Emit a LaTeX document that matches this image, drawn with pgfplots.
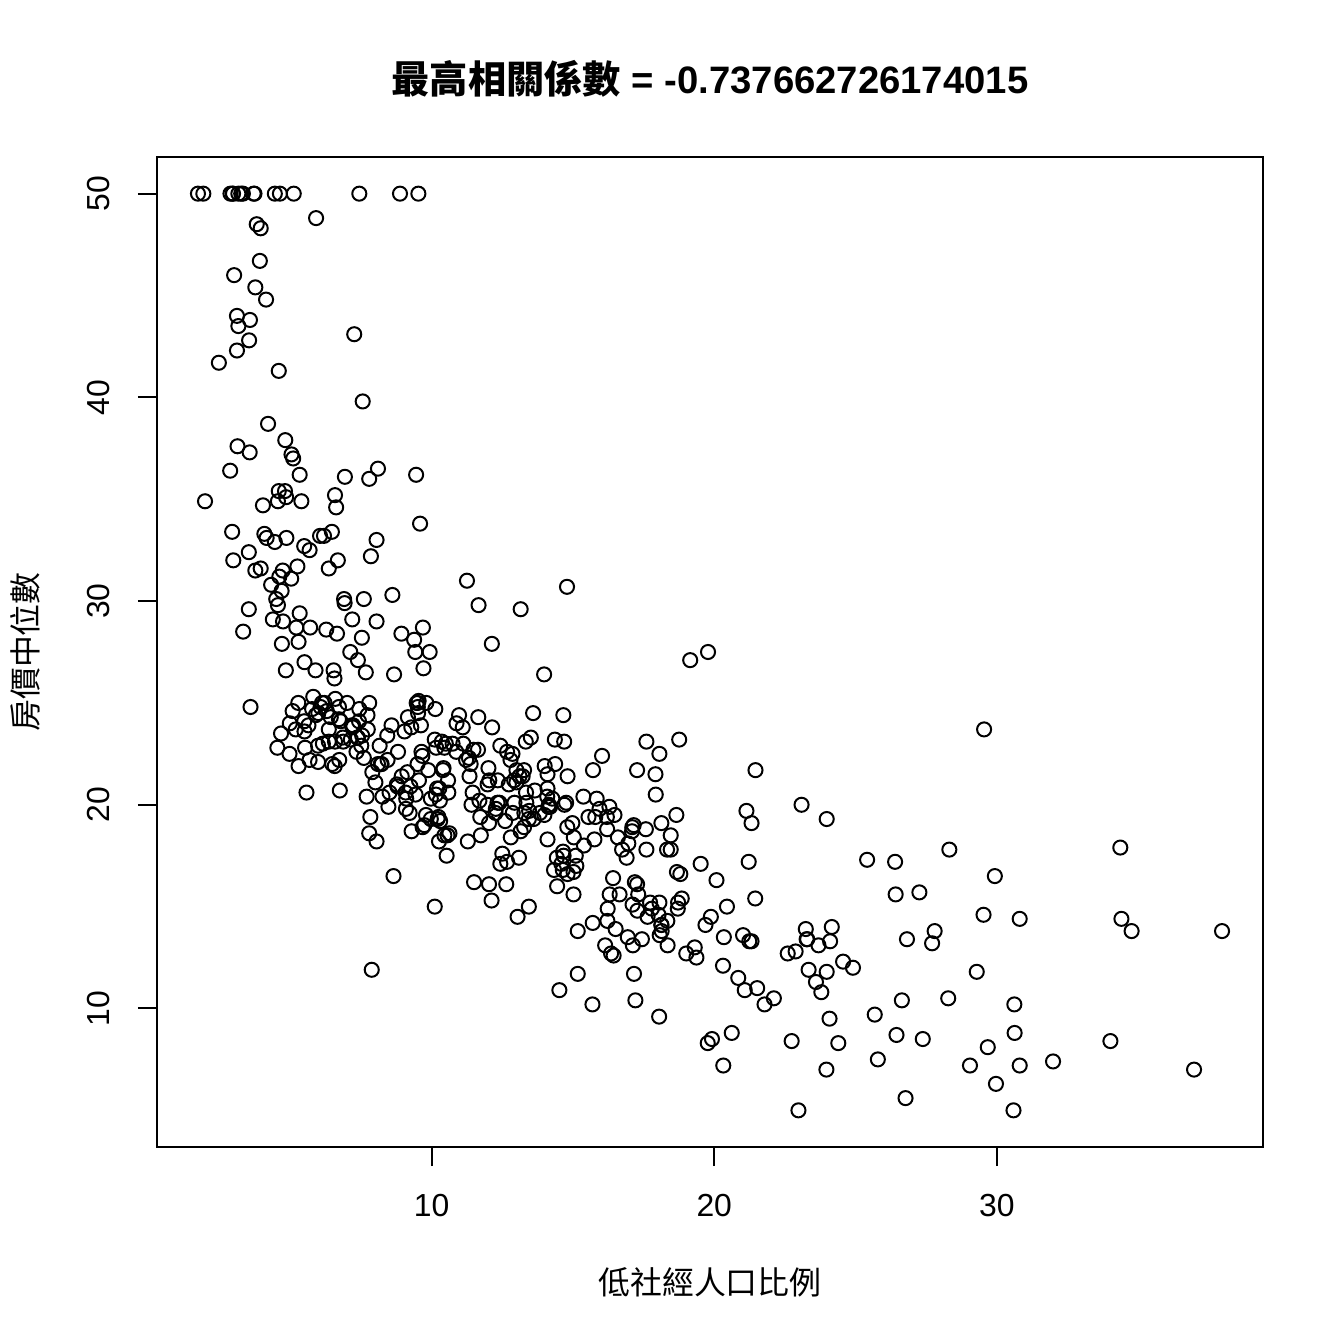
\documentclass[border=0pt]{standalone}
\usepackage{fontspec}
\setmainfont{Liberation Sans}
\newfontfamily\cjk{Noto Sans CJK TC}
\usepackage{pgfplots}
\pgfplotsset{compat=1.18}
\usepackage{pgfplotstable}

% Boston: lstat (x), medv (y)
\pgfplotstableread{
x y
4.98 24.0
9.14 21.6
4.03 34.7
2.94 33.4
5.33 36.2
5.21 28.7
12.43 22.9
19.15 27.1
29.93 16.5
17.10 18.9
20.45 15.0
13.27 18.9
15.71 21.7
8.26 20.4
10.26 18.2
8.47 19.9
6.58 23.1
14.67 17.5
11.69 20.2
11.28 18.2
21.02 13.6
13.83 19.6
18.72 15.2
19.88 14.5
16.30 15.6
16.51 13.9
14.81 16.6
17.28 14.8
12.80 18.4
11.98 21.0
22.60 12.7
13.04 14.5
27.71 13.2
18.35 13.1
20.34 13.5
9.68 18.9
11.41 20.0
8.77 21.0
10.13 24.7
4.32 30.8
1.98 34.9
4.84 26.6
5.81 25.3
7.44 24.7
9.55 21.2
10.21 19.3
14.15 20.0
18.80 16.6
30.81 14.4
16.20 19.4
13.45 19.7
9.43 20.5
5.28 25.0
8.43 23.4
14.80 18.9
4.81 35.4
5.77 24.7
3.95 31.6
6.86 23.3
9.22 19.6
13.15 18.7
14.44 16.0
6.73 22.2
9.50 25.0
8.05 33.0
4.67 23.5
10.24 19.4
8.10 22.0
13.09 17.4
8.79 20.9
6.72 24.2
9.88 21.7
5.52 22.8
7.54 23.4
6.78 24.1
8.94 21.4
11.97 20.0
10.27 20.8
12.34 21.2
9.10 20.3
5.29 28.0
7.22 23.9
6.72 24.8
7.51 22.9
9.62 23.9
6.53 26.6
12.86 22.5
8.44 22.2
5.50 23.6
5.70 28.7
8.81 22.6
8.20 22.0
8.16 22.9
6.21 25.0
10.59 20.6
6.65 28.4
11.34 21.4
4.21 38.7
3.57 43.8
6.19 33.2
9.42 27.5
7.67 26.5
10.63 18.6
13.44 19.3
12.33 20.1
16.47 19.5
18.66 19.5
14.09 20.4
12.27 19.8
15.55 19.4
13.00 21.7
10.16 22.8
16.21 18.8
17.09 18.7
10.45 18.5
15.76 18.3
12.04 21.2
10.30 19.2
15.37 20.4
13.61 19.3
14.37 22.0
14.27 20.3
17.93 20.5
25.41 17.3
17.58 18.8
14.81 21.4
27.26 15.7
17.19 16.2
15.39 18.0
18.34 14.3
12.60 19.2
12.26 19.6
11.12 23.0
15.03 18.4
17.31 15.6
16.96 18.1
16.90 17.4
14.59 17.1
21.32 13.3
18.46 17.8
24.16 14.0
34.41 14.4
26.82 13.4
26.42 15.6
29.29 11.8
27.80 13.8
16.65 15.6
29.53 14.6
28.32 17.8
21.45 15.4
14.10 21.5
13.28 19.6
12.12 15.3
15.79 19.4
15.12 17.0
15.02 15.6
16.14 13.1
4.59 41.3
6.43 24.3
7.39 23.3
5.50 27.0
1.73 50.0
1.92 50.0
3.32 50.0
11.64 22.7
9.81 25.0
3.70 50.0
12.14 23.8
11.10 23.8
11.32 22.3
14.43 17.4
12.03 19.1
14.69 23.1
9.04 23.6
9.64 22.6
5.33 29.4
10.11 23.2
6.29 24.6
6.92 29.9
5.04 37.2
7.56 39.8
9.45 36.2
4.82 37.9
5.68 32.5
13.98 26.4
13.15 29.6
4.45 50.0
6.68 32.0
4.56 29.8
5.39 34.9
5.10 37.0
4.69 30.5
2.87 36.4
5.03 31.1
4.38 29.1
2.97 50.0
4.08 33.3
8.61 30.3
6.62 34.6
4.56 34.9
4.45 32.9
7.43 24.1
3.11 42.3
3.81 48.5
2.88 50.0
10.87 22.6
10.97 24.4
18.06 22.5
14.66 24.4
23.09 20.0
17.27 21.7
23.98 19.3
16.03 22.4
9.38 28.1
29.55 23.7
9.47 25.0
13.51 23.3
9.69 28.7
17.92 21.5
10.50 23.0
9.71 26.7
21.46 21.7
9.93 27.5
7.60 30.1
4.14 44.8
4.63 50.0
3.13 37.6
6.36 31.6
3.92 46.7
3.76 31.5
11.65 24.3
5.25 31.7
2.47 41.7
3.95 48.3
8.05 29.0
10.88 24.0
9.54 25.1
4.73 31.5
6.36 23.7
7.37 23.3
11.38 22.0
12.40 20.1
11.22 22.2
5.19 23.7
12.50 17.6
18.46 18.5
9.16 24.3
10.15 20.5
9.52 24.5
6.56 26.2
5.90 24.4
3.59 24.8
3.53 29.6
3.54 42.8
6.57 21.9
9.25 20.9
3.11 44.0
5.12 50.0
7.79 36.0
6.90 30.1
9.59 33.8
7.26 43.1
5.91 48.8
11.25 31.0
8.10 36.5
10.45 22.8
14.79 30.7
7.44 50.0
3.16 43.5
13.65 20.7
13.00 21.1
6.59 25.2
7.73 24.4
6.58 35.2
3.53 32.4
2.98 32.0
6.05 33.2
4.16 33.1
7.19 29.1
4.85 35.1
3.76 45.4
4.59 35.4
3.01 46.0
3.16 50.0
7.85 32.2
8.23 22.0
12.93 20.1
7.14 23.2
7.60 22.3
9.51 24.8
3.33 28.5
3.56 37.3
4.70 27.9
8.58 23.9
10.40 21.7
6.27 28.6
7.39 27.1
15.84 20.3
4.97 22.5
4.74 29.0
6.07 24.8
9.50 22.0
8.67 26.4
4.86 33.1
6.93 36.1
8.93 28.4
6.47 33.4
7.53 28.2
4.54 22.8
9.97 20.3
12.64 16.1
5.98 22.1
11.72 19.4
7.90 21.6
9.28 23.8
11.50 16.2
18.33 17.8
15.94 19.8
10.36 23.1
12.73 21.0
7.20 23.8
6.87 23.1
7.70 20.4
11.74 18.5
6.12 25.0
5.08 24.6
6.15 23.0
12.79 22.2
9.97 19.3
7.34 22.6
9.09 19.8
12.43 17.1
7.83 19.4
5.68 22.2
6.75 20.7
8.01 21.1
9.80 19.5
10.56 18.5
8.51 20.6
9.74 19.0
9.29 18.7
5.49 32.7
8.65 16.5
7.18 23.9
4.61 31.2
10.53 17.5
12.67 17.2
6.36 23.1
5.99 24.5
5.89 26.6
5.98 22.9
5.49 24.1
7.79 18.6
4.50 30.1
8.05 18.2
5.57 20.6
17.60 17.8
13.27 21.7
11.48 22.7
12.67 22.6
7.79 25.0
14.19 19.9
10.19 20.8
14.64 16.8
5.29 21.9
7.12 27.5
14.00 21.9
13.33 23.1
3.26 50.0
3.73 50.0
2.96 50.0
9.53 50.0
8.88 50.0
34.77 13.8
37.97 13.8
13.44 15.0
23.24 13.9
21.24 13.3
23.69 13.1
21.78 10.2
17.21 10.4
21.08 10.9
23.60 11.3
24.56 12.3
30.63 8.8
30.81 7.2
28.28 10.5
31.99 7.4
30.62 10.2
20.85 11.5
17.11 15.1
18.76 23.2
25.68 9.7
15.17 13.8
16.35 12.7
17.12 13.1
19.37 12.5
19.92 8.5
30.59 5.0
29.97 6.3
26.77 5.6
20.32 7.2
20.31 12.1
19.77 8.3
27.38 8.5
22.98 5.0
23.34 11.9
12.13 27.9
26.40 17.2
19.78 27.5
10.11 15.0
21.22 17.2
34.37 17.9
20.08 16.3
36.98 7.0
29.05 7.2
25.79 7.5
26.64 10.4
20.62 8.8
22.74 8.4
15.02 16.7
15.70 14.2
14.10 20.8
23.29 13.4
17.16 11.7
24.39 8.3
15.69 10.2
14.52 10.9
21.52 11.0
24.08 9.5
17.64 14.5
19.69 14.1
12.03 16.1
16.22 14.3
15.17 11.7
23.27 13.4
18.05 9.6
26.45 8.7
34.02 8.4
22.88 12.8
22.11 10.5
19.52 17.1
16.59 18.4
18.85 15.4
23.79 10.8
23.98 11.8
17.79 14.9
16.44 12.6
18.13 14.1
19.31 13.0
17.44 13.4
17.73 15.2
17.27 16.1
16.74 17.8
18.71 14.9
18.13 14.1
19.01 12.7
16.94 13.5
16.23 14.9
14.70 20.0
16.42 16.4
14.65 17.7
13.99 19.5
10.29 20.2
13.22 21.4
14.13 19.9
17.15 19.0
21.32 19.1
18.13 19.1
14.76 20.1
16.29 19.9
12.87 19.6
14.36 23.2
11.66 29.8
18.14 13.8
24.10 13.3
18.68 16.7
24.91 12.0
18.03 14.6
13.11 21.4
10.74 23.0
7.74 23.7
7.01 25.0
10.42 21.8
13.34 20.6
10.58 21.2
14.98 19.1
11.45 20.6
18.06 15.2
23.97 7.0
29.68 8.1
18.07 13.6
13.35 20.1
12.01 21.8
13.59 24.5
17.60 23.1
21.14 19.7
14.10 18.3
12.92 21.2
15.10 17.5
14.33 16.8
9.67 22.4
9.08 20.6
5.64 23.9
6.48 22.0
7.88 11.9
}\bostondata

\begin{document}
\begin{tikzpicture}
\begin{axis}[
    name=ax,
    scale only axis,
    width=5.7604in,
    height=5.15625in,
    xmin=0.2804, xmax=39.4196,
    ymin=3.2, ymax=51.8,
    xtick={10,20,30},
    ytick={10,20,30,40,50},
    xtick pos=bottom,
    ytick pos=left,
    tick align=outside,
    major tick length=0.1in,
    axis line style={line width=0.75pt},
    tick style={line width=0.75pt, black},
    /pgf/number format/assume math mode=true,
    ticklabel style={font=\fontsize{12}{14}\selectfont},
    xticklabel shift=7pt,
    yticklabel shift=7pt,
    yticklabel style={rotate=90, anchor=south},
    xlabel={\cjk 低社經人口比例},
    ylabel={\cjk 房價中位數},
    label style={font=\fontsize{12}{14}\selectfont},
    xlabel style={at={(axis description cs:0.5,-0.1364)}, anchor=center},
    ylabel style={at={(axis description cs:-0.1193,0.5)}, anchor=center, rotate=0},
    title={{\cjk\bfseries 最高相關係數}\bfseries{} = -0.737662726174015},
    title style={font=\fontsize{14.4}{17}\selectfont\bfseries,
        at={(axis description cs:0.5,1.0626)}, anchor=center},
]
\addplot[only marks, mark=o, mark size=2.65pt, black,
    mark options={line width=0.75pt}] table[x=x, y=y] {\bostondata};
\end{axis}
\pgfresetboundingbox
\path ([shift={(-0.8177in,-1.0260in)}]ax.south west)
    rectangle ([shift={(0.4219in,0.8177in)}]ax.north east);
\end{tikzpicture}
\end{document}
